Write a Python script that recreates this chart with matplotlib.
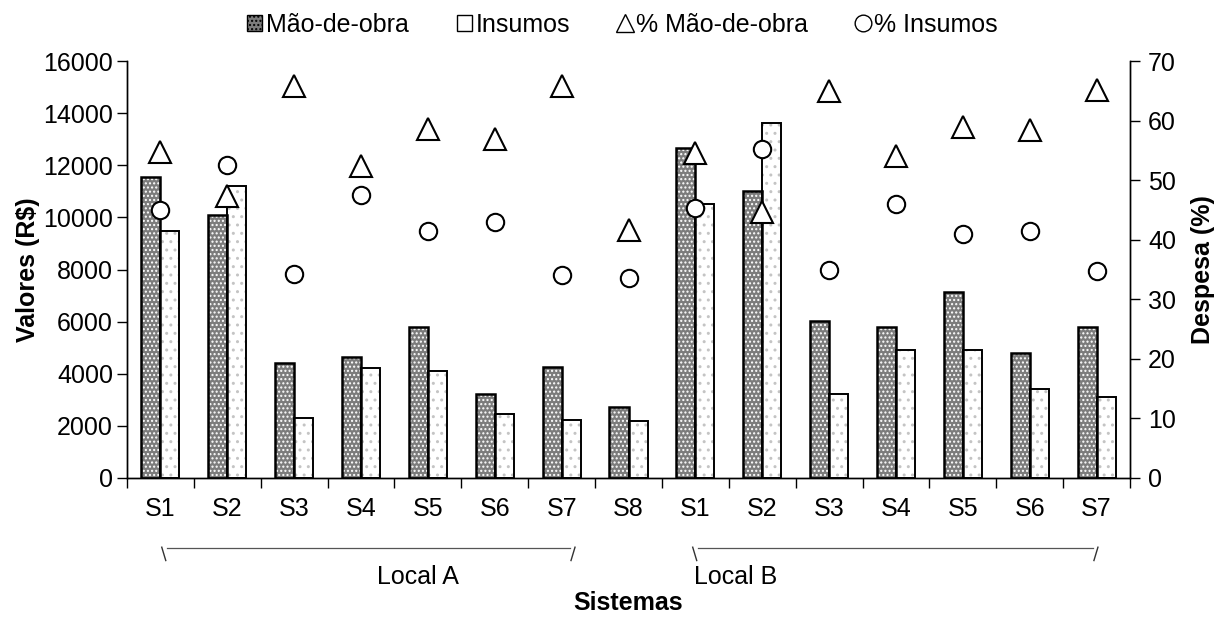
import matplotlib.pyplot as plt
from matplotlib.patches import Patch
from matplotlib.lines import Line2D
import matplotlib.transforms as mtransforms
import numpy as np

plt.rcParams["font.family"] = ["Liberation Sans", "DejaVu Sans"]
plt.rcParams["hatch.linewidth"] = 1.0

# ------------------------------------------------------------
# dados
# ------------------------------------------------------------
sistemas = ["S1", "S2", "S3", "S4", "S5", "S6", "S7", "S8",
            "S1", "S2", "S3", "S4", "S5", "S6", "S7"]

mao_de_obra = [11570, 10100, 4400, 4650, 5800, 3230, 4270, 2720,
               12650, 11000, 6030, 5800, 7130, 4800, 5790]
insumos = [9470, 11190, 2300, 4210, 4100, 2440, 2220, 2200,
           10530, 13610, 3240, 4930, 4930, 3400, 3100]

pct_mao = [54.8, 47.3, 65.8, 52.4, 58.6, 56.9, 65.9, 41.7,
           54.6, 44.6, 65.0, 54.0, 59.0, 58.5, 65.1]
pct_insumos = [45.0, 52.5, 34.2, 47.5, 41.4, 42.9, 34.1, 33.6,
               45.4, 55.3, 35.0, 46.0, 41.0, 41.5, 34.8]

locais = ["Local A", "Local B"]

FS = 18

# ------------------------------------------------------------
# figura
# ------------------------------------------------------------
fig = plt.figure(figsize=(12.21, 6.17), dpi=100)
ax = fig.add_axes([0.104, 0.2253, 0.8215, 0.6757])
ax2 = ax.twinx()

x = np.arange(len(sistemas))
w = 0.285

# Mão-de-obra: cinza com pontos brancos
ax.bar(x - w / 2, mao_de_obra, w, color="#7c7c7c", edgecolor="white",
       hatch="....", linewidth=0, zorder=2)
ax.bar(x - w / 2, mao_de_obra, w, fill=False, edgecolor="black",
       linewidth=1.8, zorder=3)

# Insumos: branco com pontos cinza espaçados
ax.bar(x + w / 2, insumos, w, color="white", edgecolor="#c4c4c4",
       hatch="..", linewidth=0, zorder=2)
ax.bar(x + w / 2, insumos, w, fill=False, edgecolor="black",
       linewidth=1.4, zorder=3)

ax2.plot(x, pct_mao, linestyle="none", marker="^", markersize=15.5,
         markerfacecolor="white", markeredgecolor="black",
         markeredgewidth=1.5, zorder=4)
ax2.plot(x, pct_insumos, linestyle="none", marker="o", markersize=12.5,
         markerfacecolor="white", markeredgecolor="black",
         markeredgewidth=1.5, zorder=4)

# ------------------------------------------------------------
# eixos
# ------------------------------------------------------------
ax.set_xlim(-0.5, len(sistemas) - 0.5)
ax.set_ylim(0, 16000)
ax.set_yticks(np.arange(0, 16001, 2000))
ax2.set_ylim(0, 70)
ax2.set_yticks(np.arange(0, 71, 10))

ax.set_xticks(x)
ax.set_xticklabels(sistemas)
ax.set_xticks(np.arange(-0.5, len(sistemas), 1), minor=True)
ax.tick_params(axis="x", which="major", length=0, pad=14, labelsize=FS)
ax.tick_params(axis="x", which="minor", length=7, width=1, direction="out")
ax.tick_params(axis="y", length=7, width=1, labelsize=FS, pad=3)
ax2.tick_params(axis="y", length=7, width=1, labelsize=FS, pad=6)

for a in (ax, ax2):
    a.spines["top"].set_visible(False)
    for s in ("left", "right", "bottom"):
        a.spines[s].set_linewidth(1)

ax.set_ylabel("Valores (R$)", fontsize=FS, fontweight="bold", labelpad=2)
ax2.set_ylabel("Despesa (%)", fontsize=FS, fontweight="bold", labelpad=11)

# ------------------------------------------------------------
# chaves dos locais
# ------------------------------------------------------------
trans = mtransforms.blended_transform_factory(ax.transData, ax.transAxes)
grupos = [(0.02, 6.2), (7.96, 14.02)]
centros_txt = [3.85, 8.6]
for (a0, a1), nome, xc in zip(grupos, locais, centros_txt):
    ax.plot([a0 + 0.08, a1 - 0.08], [-0.168, -0.168], color="#555555",
            linewidth=0.9, transform=trans, clip_on=False)
    ax.plot([a0, a0 + 0.06], [-0.166, -0.198], color="#333333",
            linewidth=1.0, transform=trans, clip_on=False)
    ax.plot([a1, a1 - 0.06], [-0.166, -0.198], color="#333333",
            linewidth=1.0, transform=trans, clip_on=False)
    ax.text(xc, -0.237, nome, transform=trans, ha="center", va="center",
            fontsize=FS)

ax.text(0.5 * (len(sistemas) - 1), -0.30, "Sistemas", transform=trans,
        ha="center", va="center", fontsize=FS, fontweight="bold")

# ------------------------------------------------------------
# legenda
# ------------------------------------------------------------
handles = [
    Patch(facecolor="#7c7c7c", edgecolor="black", hatch="...."),
    Patch(facecolor="white", edgecolor="black"),
    Line2D([], [], linestyle="none", marker="^", markersize=13,
           markerfacecolor="white", markeredgecolor="black"),
    Line2D([], [], linestyle="none", marker="o", markersize=12,
           markerfacecolor="white", markeredgecolor="black"),
]
labels = ["Mão-de-obra", "Insumos", "% Mão-de-obra", "% Insumos"]
fig.legend(handles, labels, loc="center", bbox_to_anchor=(0.51, 0.96),
           ncol=4, frameon=False, fontsize=FS, handlelength=0.6,
           handleheight=0.6, handletextpad=0.15, columnspacing=1.9)

fig.savefig("out.png", dpi=100)
